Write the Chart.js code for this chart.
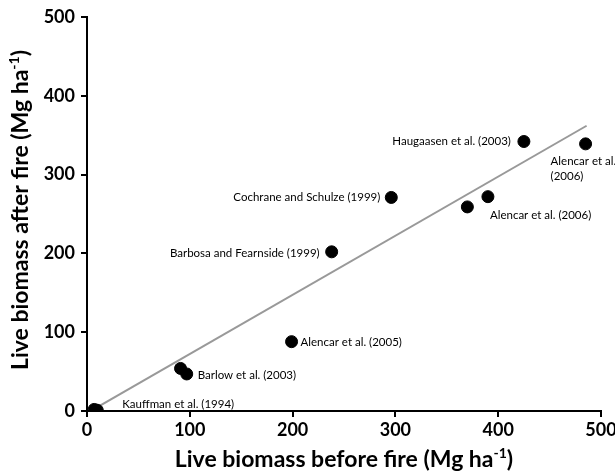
<!DOCTYPE html>
<html>
<head>
<meta charset="utf-8">
<script src="https://cdn.jsdelivr.net/npm/chart.js@4.4.0/dist/chart.umd.min.js"></script>
<style>
  html, body { margin: 0; padding: 0; background: #fff; }
  #wrap { width: 615px; height: 472px; }
</style>
</head>
<body>
<div id="wrap"><canvas id="biomassChart"></canvas></div>
<script>
// live biomass before / after fire (Mg ha-1), one entry per site
var beforeFire = [7, 10, 91, 97, 199, 238, 296, 370, 390, 425, 485];
var afterFire  = [2, 1, 54, 47, 88, 202, 271, 259, 272, 342, 339];

// ends of the fitted line
var fitX = [5, 486];
var fitY = [1, 362];

var xTicks = [0, 100, 200, 300, 400, 500];
var yTicks = [0, 100, 200, 300, 400, 500];

// study names and the point each one sits next to
var studyNames = [
  "Kauffman et al. (1994)",
  "Barlow et al. (2003)",
  "Alencar et al. (2005)",
  "Barbosa and Fearnside (1999)",
  "Cochrane and Schulze (1999)",
  "Alencar et al. (2006)",
  "Haugaasen et al. (2003)",
  "Alencar et al.\n(2006)"
];
var studyPoint = [1, 3, 4, 5, 6, 8, 9, 10];

// where each name goes relative to its point (px)
var namePlace = [
  { dx: 25, dy: -6, align: "left" },
  { dx: 11, dy: 1, align: "left" },
  { dx: 9, dy: 1, align: "left" },
  { dx: -12, dy: 1, align: "right" },
  { dx: -11, dy: 0, align: "right" },
  { dx: 2, dy: 19, align: "left" },
  { dx: -13, dy: 0, align: "right" },
  { dx: -35, dy: 17, align: "left" }
];

var xTitle = ["Live biomass before fire (Mg ha", "-1", ")"];
var yTitle = ["Live biomass after fire (Mg ha", "-1", ")"];

var FONT = "Lato, 'Open Sans', sans-serif";

var points = beforeFire.map(function(x, i) { return { x: x, y: afterFire[i] }; });
var fitLine = fitX.map(function(x, i) { return { x: x, y: fitY[i] }; });

// title with a superscript part, drawn at the current origin
function drawSupTitle(ctx, parts, size) {
  ctx.font = "bold " + size + "px " + FONT;
  var w0 = ctx.measureText(parts[0]).width;
  var w2 = ctx.measureText(parts[2]).width;
  ctx.font = "bold " + Math.round(size * 0.62) + "px " + FONT;
  var w1 = ctx.measureText(parts[1]).width;
  var total = w0 + w1 + w2;
  var x = -total / 2;
  ctx.textAlign = "left";
  ctx.textBaseline = "alphabetic";
  ctx.font = "bold " + size + "px " + FONT;
  ctx.fillText(parts[0], x, 0);
  ctx.font = "bold " + Math.round(size * 0.62) + "px " + FONT;
  ctx.fillText(parts[1], x + w0, -size * 0.4);
  ctx.font = "bold " + size + "px " + FONT;
  ctx.fillText(parts[2], x + w0 + w1, 0);
}

var annotate = {
  id: "annotate",
  afterDraw: function(chart) {
    var ctx = chart.ctx;
    var xs = chart.scales.x, ys = chart.scales.y;
    var area = chart.chartArea;
    ctx.save();
    ctx.fillStyle = "#000";
    ctx.font = "11.5px " + FONT;
    ctx.textBaseline = "middle";
    studyNames.forEach(function(name, i) {
      var p = studyPoint[i];
      var px = xs.getPixelForValue(beforeFire[p]) + namePlace[i].dx;
      var py = ys.getPixelForValue(afterFire[p]) + namePlace[i].dy;
      ctx.textAlign = namePlace[i].align;
      name.split("\n").forEach(function(line, k) {
        ctx.fillText(line, px, py + k * 15);
      });
    });

    ctx.save();
    ctx.translate((area.left + area.right) / 2, 467);
    drawSupTitle(ctx, xTitle, 23);
    ctx.restore();

    ctx.save();
    ctx.translate(28, (area.top + area.bottom) / 2 - 4);
    ctx.rotate(-Math.PI / 2);
    drawSupTitle(ctx, yTitle, 23);
    ctx.restore();
    ctx.restore();
  }
};

var ctx = document.getElementById("biomassChart").getContext("2d");
var myChart = new Chart(ctx, {
  type: "scatter",
  data: {
    datasets: [
      {
        label: "fit",
        type: "line",
        data: fitLine,
        borderColor: "#999999",
        borderWidth: 2,
        pointRadius: 0,
        fill: false,
        order: 2
      },
      {
        label: "sites",
        data: points,
        backgroundColor: "#000",
        borderColor: "#000",
        pointRadius: 6,
        pointHoverRadius: 6,
        order: 1
      }
    ]
  },
  options: {
    responsive: true,
    maintainAspectRatio: false,
    animation: false,
    events: [],
    layout: { padding: { top: 17, right: 14, left: 0, bottom: 0 } },
    plugins: {
      legend: { display: false },
      tooltip: { enabled: false }
    },
    scales: {
      x: {
        type: "linear",
        min: 0,
        max: 500,
        afterBuildTicks: function(scale) {
          scale.ticks = xTicks.map(function(v) { return { value: v }; });
        },
        afterFit: function(scale) {
          scale.height = 61;
          scale.paddingLeft = 0;
          scale.paddingRight = 0;
        },
        border: { display: true, color: "#000", width: 2 },
        grid: { display: true, drawOnChartArea: false, drawTicks: true, tickLength: 6, color: "#000", lineWidth: 2 },
        ticks: {
          color: "#000",
          padding: 2,
          maxRotation: 0,
          font: { family: FONT, size: 18, weight: "bold" }
        }
      },
      y: {
        type: "linear",
        min: 0,
        max: 500,
        afterBuildTicks: function(scale) {
          scale.ticks = yTicks.map(function(v) { return { value: v }; });
        },
        afterFit: function(scale) {
          scale.width = 87;
          scale.paddingTop = 0;
          scale.paddingBottom = 0;
        },
        border: { display: true, color: "#000", width: 2 },
        grid: { display: true, drawOnChartArea: false, drawTicks: true, tickLength: 6, color: "#000", lineWidth: 2 },
        ticks: {
          color: "#000",
          padding: 6,
          font: { family: FONT, size: 18, weight: "bold" }
        }
      }
    }
  },
  plugins: [annotate]
});
</script>
</body>
</html>
